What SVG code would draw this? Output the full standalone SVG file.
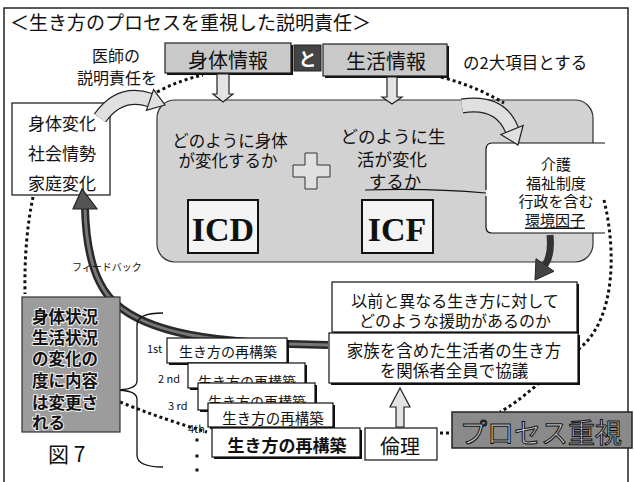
<svg xmlns="http://www.w3.org/2000/svg" width="634" height="482" viewBox="0 0 634 482">
<style>
text{font-family:"Noto Sans CJK JP","Liberation Sans",sans-serif;fill:#111}
.c{text-anchor:middle;dominant-baseline:central}
.box{fill:#fff;stroke:#111;stroke-width:1.2}
.gbox{fill:#c9c9c9;stroke:#222;stroke-width:1.2}
.dot{fill:none;stroke:#111;stroke-width:3;stroke-dasharray:3 3}
.hol{fill:#e4e4e4;stroke:#222;stroke-width:1.2}
.sh{fill:#111}
</style>
<rect x="0" y="0" width="634" height="482" fill="#fff"/>
<rect x="4" y="8" width="624" height="500" fill="none" stroke="#222" stroke-width="1.5"/>
<text id="title" x="10" y="21" style="font-size:19px;dominant-baseline:central">＜生き方のプロセスを重視した説明責任＞</text>

<g id="n-ishi"><text class="c" x="116" y="55" style="font-size:16px">医師の</text><text class="c" x="117" y="77" style="font-size:16px">説明責任を</text></g>
<g id="n-shintai"><rect class="sh" x="167" y="45" width="126" height="30"/><rect class="gbox" x="165" y="43" width="126" height="30"/><text class="c" x="228" y="59" style="font-size:20px">身体情報</text></g>
<g id="n-to"><rect x="294" y="45" width="27" height="26" fill="#444" stroke="#222"/><text class="c" x="307.5" y="58" style="font-size:18px;fill:#fff;font-weight:bold">と</text></g>
<g id="n-seikatsu"><rect class="sh" x="325" y="46" width="124" height="32"/><rect class="gbox" x="323" y="44" width="124" height="32"/><text class="c" x="386" y="60" style="font-size:20px">生活情報</text></g>
<text id="n-2dai" x="463" y="62" style="font-size:16.5px;dominant-baseline:central">の2大項目とする</text>

<g id="n-main"><rect x="157" y="100" width="436" height="162" rx="18" fill="#d2d2d2" stroke="#333" stroke-width="1.2"/>
<text class="c" x="230" y="140" style="font-size:16.5px">どのように身体</text>
<text class="c" x="228" y="160" style="font-size:16.5px">が変化するか</text>
<path d="M305 153h12v12h13v12h-13v12h-12v-12h-12v-12h12z" fill="#e0e0e0" stroke="#333" stroke-width="1"/>
<text class="c" x="393" y="135" style="font-size:17.5px">どのように生</text>
<text class="c" x="392" y="158" style="font-size:17.5px">活が変化</text>
<text class="c" x="395" y="180" style="font-size:17.5px">するか</text>
<rect x="188" y="200" width="70" height="53" fill="#f4f4f4" stroke="#111" stroke-width="2"/>
<text class="c" x="223" y="229" style="font-size:34px;font-family:'Liberation Serif',serif;font-weight:bold">ICD</text>
<rect x="362" y="200" width="71" height="53" fill="#f4f4f4" stroke="#111" stroke-width="2"/>
<text class="c" x="397" y="229" style="font-size:34px;font-family:'Liberation Serif',serif;font-weight:bold">ICF</text>
</g>

<g id="n-kankyo"><path d="M605 143H492Q486 143 486 150V227Q486 233 492 233H605Z" fill="#fff" stroke="none"/>
<path d="M605 143H492Q486 143 486 150V190M486 196V227Q486 233 492 233H605" fill="none" stroke="#111" stroke-width="1.2"/>
<path d="M365 190Q430 188 486 193" fill="none" stroke="#111" stroke-width="1.2"/>
<text class="c" x="556" y="163" style="font-size:15px">介護</text>
<text class="c" x="556" y="182" style="font-size:15px">福祉制度</text>
<text class="c" x="556" y="200" style="font-size:15px">行政を含む</text>
<text class="c" x="555" y="219" style="font-size:15px;text-decoration:underline">環境因子</text>
</g>

<g id="n-left"><rect class="box" x="12" y="103" width="98" height="92"/>
<text class="c" x="62" y="122" style="font-size:17px">身体変化</text>
<text class="c" x="62" y="152" style="font-size:17px">社会情勢</text>
<text class="c" x="62" y="182" style="font-size:17px">家庭変化</text></g>

<g id="connectors">
<path class="dot" d="M157 92Q180 80 203 75"/>
<path class="dot" d="M441 77Q475 86 504 103"/>
<path class="dot" d="M604 200C616 250 616 318 580 348S522 400 500 412"/>
<path class="dot" d="M440 433H453"/>
<path class="dot" d="M33 197Q24 240 25 294"/>
<path class="dot" d="M120 402Q165 420 207 432"/>
<rect x="195.5" y="438.5" width="3" height="3" fill="#111"/><rect x="195.5" y="454.5" width="3" height="3" fill="#111"/><rect x="195.5" y="468.5" width="3" height="3" fill="#111"/>
<path class="hol" d="M217 74h12v20h4l-10 8l-10-8h4z"/>
<path class="hol" d="M387 77h10v20h5l-10 7l-10-7h5z"/>
<path d="M100 118Q120 90 150 100" fill="none" stroke="#222" stroke-width="15"/>
<path d="M100 118Q120 90 150 100" fill="none" stroke="#e0e0e0" stroke-width="12.5"/>
<path d="M146.4 110.4L153.6 89.6L165 105Z" fill="#e0e0e0" stroke="#222" stroke-width="1.2"/>
<path d="M462 106Q500 100 512 130" fill="none" stroke="#222" stroke-width="15"/>
<path d="M462 106Q500 100 512 130" fill="none" stroke="#e0e0e0" stroke-width="12.5"/>
<path d="M500.9 134.5L523.1 125.5L518 145Z" fill="#e0e0e0" stroke="#222" stroke-width="1.2"/>
<path d="M550 235Q552 255 545 265" fill="none" stroke="#333" stroke-width="7"/>
<path d="M554 271.3L536 258.7L535 280Z" fill="#444" stroke="#222" stroke-width="1"/>
<path d="M328 345L290 344C220 342 150 335 115 303C95 285 86 250 85 208" fill="none" stroke="#2a2a2a" stroke-width="8"/>
<path d="M328 345L290 344C220 342 150 335 115 303C95 285 86 250 85 208" fill="none" stroke="#777" stroke-width="3"/>
<path d="M73 209L97 209L82 189Z" fill="#555" stroke="#222" stroke-width="1.2"/>
<path class="hol" d="M396 427v-20h-6l10-19l10 19h-6v20z"/>
<path d="M163 313Q137 313 137 325V381Q137 390 114 390Q137 390 137 399V455Q137 467 163 467" fill="none" stroke="#111" stroke-width="1.3"/>
</g>
<text id="n-fb" x="72" y="266" style="font-size:10px;dominant-baseline:central">フィードバック</text>

<g id="n-jokyo"><rect x="22" y="297" width="98" height="135" fill="#9c9c9c" stroke="#333" stroke-width="1.2"/>
<g style="font-size:16.5px;font-weight:bold;dominant-baseline:central;stroke:#eee;stroke-width:2;paint-order:stroke">
<text x="32" y="316">身体状況</text><text x="32" y="337">生活状況</text><text x="32" y="358">の変化の</text><text x="32" y="380">度に内容</text><text x="32" y="402">は変更さ</text><text x="32" y="422">れる</text></g></g>
<text id="n-zu7" x="48" y="453" style="font-size:21px;dominant-baseline:central">図 7</text>

<g id="n-s1"><text x="147" y="348" style="font-size:11px;dominant-baseline:central">1st</text><rect class="sh" x="169" y="340" width="120" height="25"/><rect class="box" x="167" y="338" width="120" height="25"/><text class="c" x="228" y="351" style="font-size:14px">生き方の再構築</text></g>
<g id="n-s2"><text x="158" y="378" style="font-size:11px;dominant-baseline:central">2 nd</text><rect class="sh" x="190" y="365" width="117" height="25"/><rect class="box" x="188" y="363" width="117" height="25"/><text class="c" x="247" y="381" style="font-size:14px">生き方の再構築</text></g>
<g id="n-s3"><text x="168" y="405" style="font-size:11px;dominant-baseline:central">3 rd</text><rect class="sh" x="200" y="385" width="117" height="27"/><rect class="box" x="198" y="383" width="117" height="27"/><text class="c" x="257" y="401" style="font-size:14px">生き方の再構築</text></g>
<g id="n-s4"><text x="188" y="428" style="font-size:11px;dominant-baseline:central">4th</text><rect class="sh" x="210" y="405" width="125" height="24"/><rect class="box" x="208" y="403" width="125" height="24"/><text class="c" x="273" y="417" style="font-size:14.5px">生き方の再構築</text></g>
<g id="n-s5"><rect class="sh" x="214" y="430" width="148" height="29"/><rect class="box" x="212" y="428" width="148" height="29"/><text class="c" x="287" y="444" style="font-size:17px;font-weight:bold">生き方の再構築</text></g>

<g id="n-izen"><rect class="sh" x="334" y="284" width="245" height="50"/><rect class="box" x="332" y="282" width="245" height="50"/>
<text class="c" x="455" y="300" style="font-size:16px">以前と異なる生き方に対して</text>
<text class="c" x="455" y="320" style="font-size:16px">どのような援助があるのか</text></g>
<g id="n-kazoku"><rect class="sh" x="331" y="335" width="249" height="50"/><rect class="box" x="329" y="333" width="249" height="50"/>
<text class="c" x="454" y="350" style="font-size:16.5px">家族を含めた生活者の生き方</text>
<text class="c" x="454" y="370" style="font-size:16.5px">を関係者全員で協議</text></g>
<g id="n-rinri"><rect class="box" x="365" y="428" width="72" height="32"/><text class="c" x="400" y="445" style="font-size:20px">倫理</text></g>
<g id="n-process"><rect x="452" y="412" width="180" height="36" fill="#8a8a8a" stroke="#222" stroke-width="1.5"/>
<text class="c" x="541" y="431" style="font-size:27px;fill:#c8c8c8;stroke:#111;stroke-width:1">プロセス重視</text></g>
</svg>
